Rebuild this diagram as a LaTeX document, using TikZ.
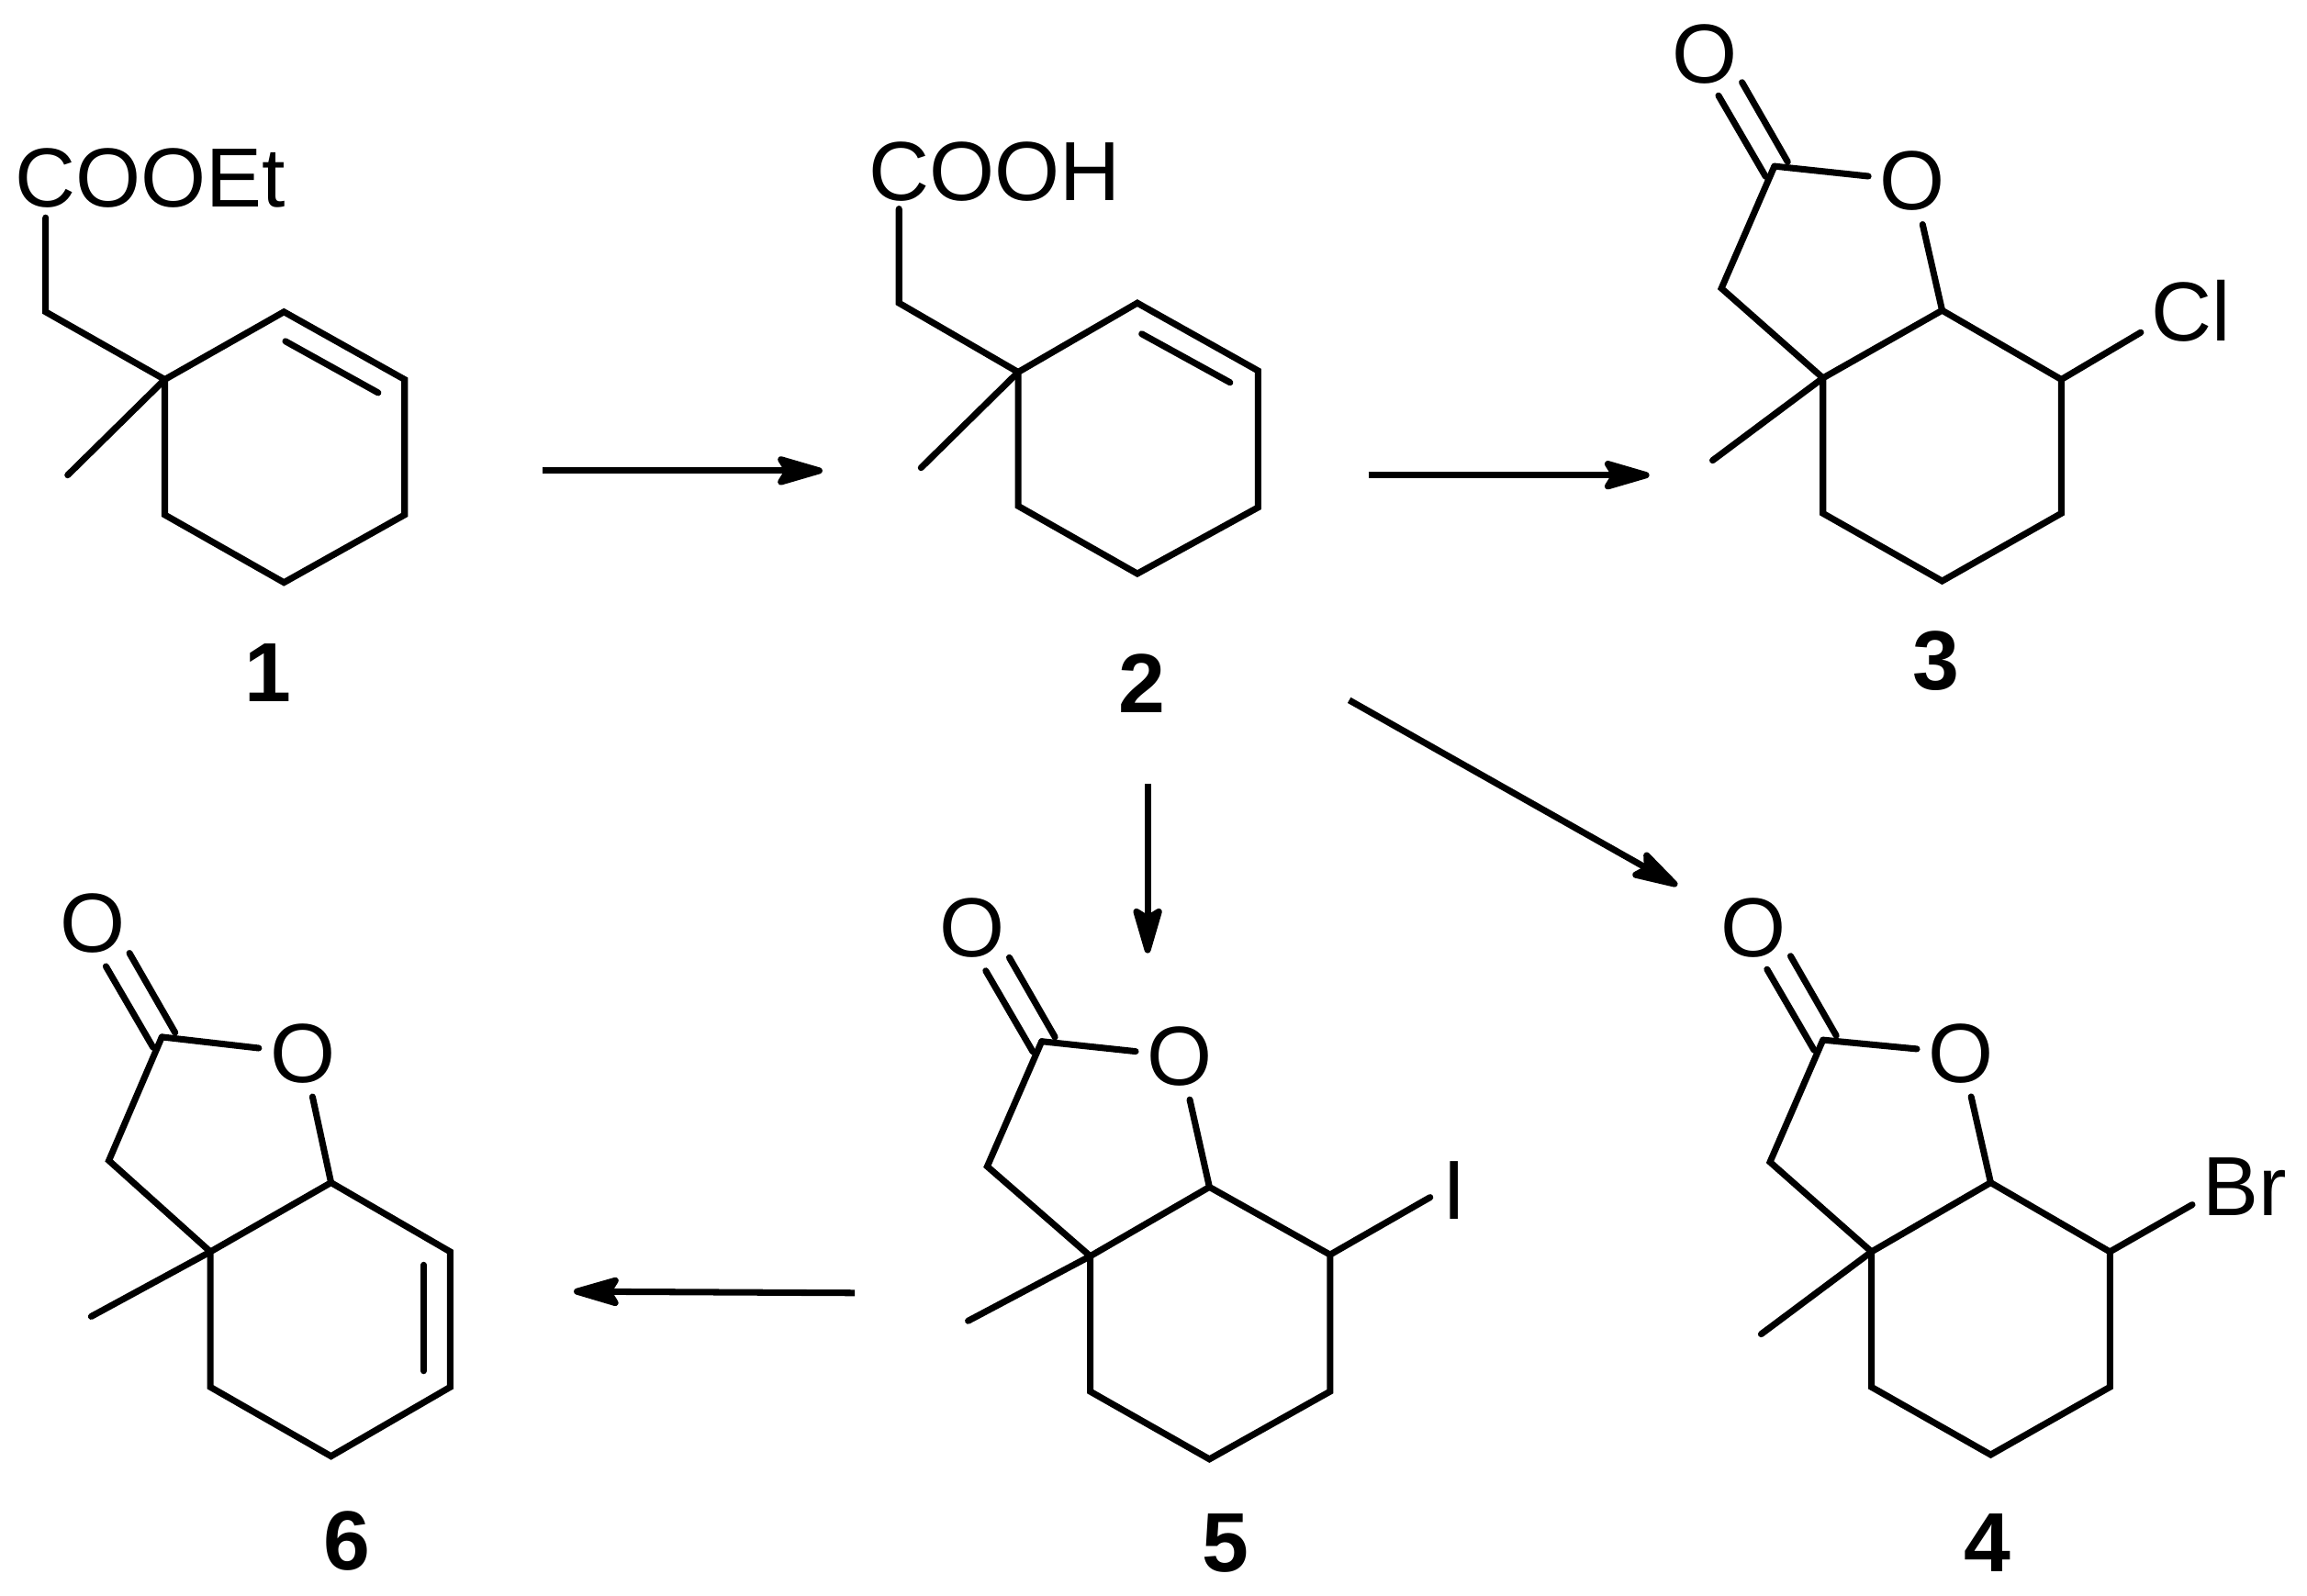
\documentclass[tikz,border=0pt]{standalone}
\usepackage{fontspec}
\setmainfont{Liberation Sans}
\usetikzlibrary{arrows.meta}
\tikzset{
  bond/.style={line width=2pt,line cap=round,line join=miter,black},
  rxn/.style={line width=2pt,black,-{Stealth[length=17.5pt,width=10pt,inset=3pt,round]}},
  atom/.style={font=\fontsize{26}{26}\selectfont,inner sep=0pt,black},
  ringo/.style={atom,circle,minimum size=52*0.16027mm},
  cmpd/.style={font=\fontsize{26}{26}\selectfont\bfseries,inner sep=0pt,black,anchor=base}
}
\begin{document}
\begin{tikzpicture}[x=0.016027cm,y=-0.016027cm]
\useasboundingbox (0,0) rectangle (1568,1085);
% compounds 1 and 2
\foreach \n/\p in {q1/{112,258},a1/{193,212},b1/{275,258},c1/{275,350},d1/{193,396},e1/{112,350},m1/{46,323},h1/{31,212},t1/{31,148},ia1/{194,232},ib1/{257,267},
  q2/{692,253},a2/{773,206},b2/{855,252},c2/{855,345},d2/{773,390},e2/{692,344},m2/{626,318},h2/{611,206},t2/{611,142},ia2/{776,227},ib2/{836,260}}
  {\coordinate (\n) at (\p);}
\node[atom,anchor=base west] (lab1) at (10,141) {COOEt};
\node[atom,anchor=base west] (lab2) at (590,136.5) {COOH};
\foreach \i in {1,2}{
  \draw[bond] (q\i) -- (a\i) -- (b\i) -- (c\i) -- (d\i) -- (e\i) -- cycle;
  \draw[bond] (ia\i) -- (ib\i);
  \draw[bond] (q\i) -- (m\i);
  \draw[bond] (q\i) -- (h\i) -- (t\i);
}
% lactones 3-6
\foreach \n/\p in {
  q3/{1239,257},a3/{1320,211},b3/{1401,258},c3/{1401,349},d3/{1320,395},e3/{1239,349},k3/{1206,113},h3/{1170,196},m3/{1164,313},
  q4/{1272,851},a4/{1353,804},b4/{1434,851},c4/{1434,943},d4/{1353,989},e4/{1272,943},k4/{1239,707},h4/{1203,790},m4/{1197,907},
  q5/{741,854},a5/{822,807},b5/{904,853},c5/{904,946},d5/{822,992},e5/{741,946},k5/{708,708},h5/{671,793},m5/{658,898},
  q6/{143,851},a6/{225,804},b6/{306,851},c6/{306,943},d6/{225,990},e6/{143,943},k6/{110,705},h6/{74,789},m6/{62,895}}
  {\coordinate (\n) at (\p);}
\node[ringo] (o3) at (1300,123) {O};
\node[ringo] (o4) at (1333,716) {O};
\node[ringo] (o5) at (802,718) {O};
\node[ringo] (o6) at (206,716) {O};
\node[atom] (co3) at (1159,37) {O};
\node[atom] (co4) at (1192,631) {O};
\node[atom] (co5) at (661,631) {O};
\node[atom] (co6) at (63,628) {O};
\foreach \i in {3,4,5,6}{
  \draw[bond] (q\i) -- (a\i) -- (b\i) -- (c\i) -- (d\i) -- (e\i) -- cycle;
  \draw[bond] (q\i) -- (m\i);
  \draw[bond] (q\i) -- (h\i) -- (k\i);
  \draw[bond] (k\i) -- (o\i);
  \draw[bond] (a\i) -- (o\i);
  \draw[bond] ([shift={(9,-3)}]k\i) -- ([shift={(-22,-57)}]k\i);
  \draw[bond] ([shift={(-6,7)}]k\i) -- ([shift={(-38,-48)}]k\i);
}
% substituents
\coordinate (x3) at (1455,226);
\coordinate (x4) at (1490,819);
\coordinate (x5) at (972,814);
\draw[bond] (b3) -- (x3);
\draw[bond] (b4) -- (x4);
\draw[bond] (b5) -- (x5);
\node[atom,anchor=base west] (cl) at (1462,232) {Cl};
\node[atom,anchor=base west] (br) at (1497,826.7) {Br};
\node[atom,anchor=base west] (io) at (980,829) {I};
\coordinate (ia6) at (288,860);
\coordinate (ib6) at (288,932);
\draw[bond] (ia6) -- (ib6);
% compound numbers
\node[cmpd] (n1) at (182,477.3) {1};
\node[cmpd] (n2) at (776,484.2) {2};
\node[cmpd] (n3) at (1316,469) {3};
\node[cmpd] (n4) at (1350.6,1068.8) {4};
\node[cmpd] (n5) at (833,1068.6) {5};
\node[cmpd] (n6) at (235.5,1067) {6};
% reaction arrows
\coordinate (r1a) at (369,320); \coordinate (r1b) at (559,320);
\coordinate (r2a) at (930,323); \coordinate (r2b) at (1121,323);
\coordinate (r3a) at (917,476); \coordinate (r3b) at (1140,602);
\coordinate (r4a) at (780,533); \coordinate (r4b) at (780,648);
\coordinate (r5a) at (581,879); \coordinate (r5b) at (390,878);
\draw[rxn] (r1a) -- (r1b);
\draw[rxn] (r2a) -- (r2b);
\draw[rxn] (r3a) -- (r3b);
\draw[rxn] (r4a) -- (r4b);
\draw[rxn] (r5a) -- (r5b);
\end{tikzpicture}
\end{document}
